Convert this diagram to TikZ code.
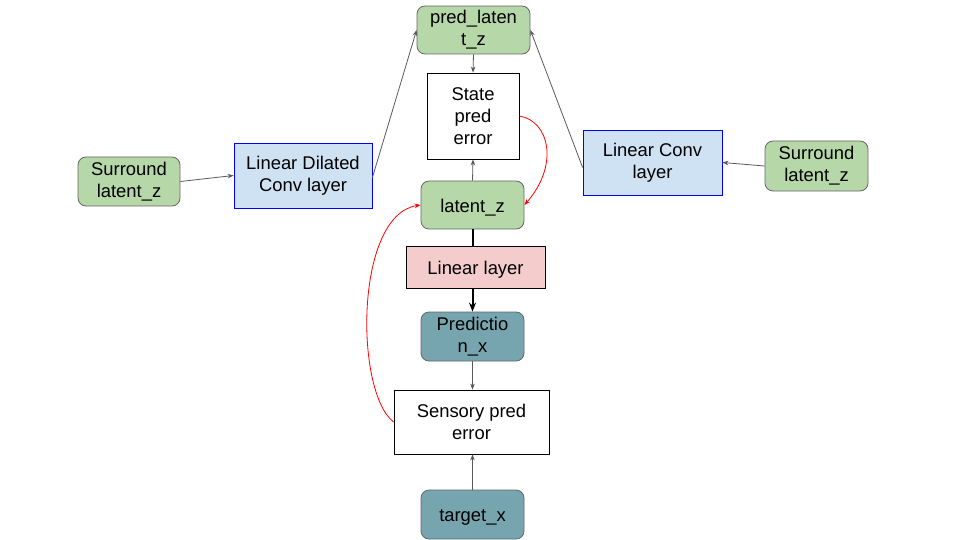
\documentclass[tikz,border=0pt]{standalone}
\usepackage{fontspec}
\setmainfont{Liberation Sans}
\usetikzlibrary{arrows.meta}
\definecolor{gfill}{HTML}{B6D7A8}
\definecolor{tfill}{HTML}{76A5AF}
\definecolor{pfill}{HTML}{F4CCCC}
\definecolor{bfill}{HTML}{CFE2F3}
\definecolor{gline}{HTML}{595959}
\definecolor{bord}{HTML}{666666}
\tikzset{
  base/.style={inner sep=0pt, align=center, font=\fontsize{18.4}{22}\selectfont,
    execute at begin node={\rule{0pt}{18.5pt}}},
  greenbox/.style={base, fill=gfill, draw=bord, rounded corners=8pt, line width=0.8pt},
  tealbox/.style={base, fill=tfill, draw=bord, rounded corners=8pt, line width=0.8pt},
  whitebox/.style={base, fill=white, draw=black, line width=0.8pt},
  pinkbox/.style={base, fill=pfill, draw=black, line width=0.8pt},
  bluebox/.style={base, fill=bfill, draw=blue, line width=0.8pt},
  garrow/.style={draw=gline, line width=0.8pt, -{Stealth[length=6pt,width=4.5pt]}},
  thickarrow/.style={draw=black, line width=2pt, -{Stealth[length=9pt,width=7pt]}},
  thickline/.style={draw=black, line width=2pt},
  redarrow/.style={draw=red, line width=0.8pt, -{Stealth[length=6pt,width=4.5pt]}},
}
\begin{document}
\begin{tikzpicture}[x=1pt,y=-1pt]
\useasboundingbox (0,0) rectangle (960,540);
\node[greenbox, minimum width=113pt, minimum height=48pt] (pred) at (473.5,30) {pred\_laten\\t\_z};
\node[whitebox, minimum width=92pt, minimum height=86pt] (state) at (473,116) {State\\pred\\error};
\node[greenbox, minimum width=103pt, minimum height=48pt] (lat) at (472.5,205) {latent\_z};
\node[pinkbox, minimum width=139pt, minimum height=42pt] (lin) at (475.5,267) {Linear layer};
\node[tealbox, minimum width=103pt, minimum height=49pt] (predx) at (472.5,336.5) {Predictio\\n\_x};
\node[whitebox, minimum width=155pt, minimum height=64pt] (sens) at (471.5,422) {Sensory pred\\error};
\node[tealbox, minimum width=103pt, minimum height=49pt] (targ) at (472.5,514.5) {target\_x};
\node[greenbox, minimum width=102pt, minimum height=49pt] (surL) at (129,181.5) {Surround\\latent\_z};
\node[bluebox, minimum width=138pt, minimum height=65pt] (dil) at (303,175.5) {Linear Dilated\\Conv layer};
\node[bluebox, minimum width=139pt, minimum height=65pt] (conv) at (652.5,162.5) {Linear Conv\\layer};
\node[greenbox, minimum width=103pt, minimum height=50pt] (surR) at (816.5,166) {Surround\\latent\_z};

\draw[garrow] (surL.east) -- (dil.west);
\draw[garrow] (surR.west) -- (conv.east);
\draw[garrow] ([yshift=-2pt]dil.east) -- (pred.west);
\draw[garrow] ([yshift=-5pt]conv.west) -- (pred.east);
\draw[garrow] (pred.south) -- (state.north);
\draw[garrow] (lat.north) -- (state.north |- state.south);
\draw[thickline] (lat.south) -- (lat.south |- lin.north);
\draw[thickarrow] (lat.south |- lin.south) -- (predx.north);
\draw[garrow] (predx.south) -- (predx.south |- sens.north);
\draw[garrow] (targ.north) -- (targ.north |- sens.south);
\draw[redarrow] (state.east) .. controls +(30,5) and +(35,-40) .. (lat.east);
\draw[redarrow] (sens.west) .. controls +(-39,-30) and +(-66,10) .. (lat.west);
\end{tikzpicture}
\end{document}
